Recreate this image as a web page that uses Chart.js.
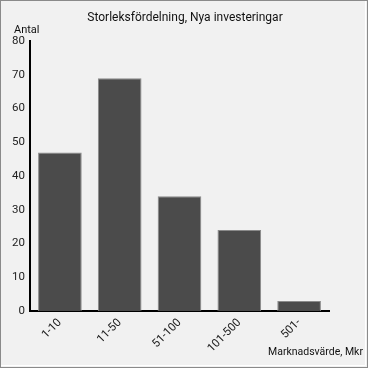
<!DOCTYPE html>
<html><head><meta charset="utf-8">
<script src="https://cdn.jsdelivr.net/npm/chart.js@4/dist/chart.umd.min.js"></script>
<style>html,body{margin:0;padding:0;background:#f1f1f1}#wrap{width:368px;height:368px;position:relative}</style>
</head><body><div id="wrap"><canvas id="c" width="368" height="368"></canvas></div>
<script>
const categories = ["1-10", "11-50", "51-100", "101-500", "501-"];
const antal = [47, 69, 34, 24, 3];
const yTicks = [0, 10, 20, 30, 40, 50, 60, 70, 80];
const titleText = "Storleksfördelning, Nya investeringar";
const yLabel = "Antal";
const xLabel = "Marknadsvärde, Mkr";
const FONT = "Roboto, 'Noto Sans', sans-serif";

const frame = {
  id: 'frame',
  beforeDraw(chart) {
    const ctx = chart.ctx;
    ctx.save();
    ctx.fillStyle = '#f1f1f1';
    ctx.fillRect(0, 0, 368, 368);
    ctx.strokeStyle = '#8a8a8a';
    ctx.lineWidth = 1;
    ctx.strokeRect(0.5, 0.5, 367, 367);
    ctx.strokeStyle = '#ffffff';
    ctx.beginPath();
    ctx.moveTo(365.5, 1); ctx.lineTo(365.5, 365.5); ctx.lineTo(1, 365.5);
    ctx.stroke();
    ctx.restore();
  },
  afterDraw(chart) {
    const ctx = chart.ctx;
    ctx.save();
    ctx.fillStyle = '#111';
    ctx.textBaseline = 'middle';
    ctx.font = '12px ' + FONT;
    ctx.textAlign = 'center';
    ctx.fillText(titleText, 185, 17.5);
    ctx.font = '11px ' + FONT;
    ctx.textAlign = 'left';
    ctx.fillText(yLabel, 14, 30);
    ctx.font = '10.5px ' + FONT;
    ctx.textAlign = 'right';
    ctx.fillText(xLabel, 363, 352);
    ctx.restore();
  }
};

new Chart(document.getElementById('c'), {
  type: 'bar',
  data: {
    labels: categories,
    datasets: [{
      data: antal,
      backgroundColor: '#4b4b4b',
      borderColor: '#8a8a8a',
      borderWidth: 1,
      barPercentage: 0.73,
      categoryPercentage: 1.0
    }]
  },
  options: {
    responsive: false,
    animation: false,
    devicePixelRatio: 1,
    layout: { padding: { top: 41, left: 0, right: 39, bottom: 0 } },
    plugins: { legend: { display: false }, title: { display: false }, tooltip: { enabled: false } },
    scales: {
      x: {
        grid: { display: false, drawTicks: false },
        border: { display: true, color: '#000', width: 2 },
        ticks: { color: '#222', font: { size: 11.5, family: FONT }, maxRotation: 45, minRotation: 45, padding: 5 },
        afterFit(s) { s.height = 57; }
      },
      y: {
        min: 0, max: 80,
        afterBuildTicks(s) { s.ticks = yTicks.map(v => ({ value: v })); },
        grid: { display: false, drawTicks: false },
        border: { display: true, color: '#000', width: 2 },
        ticks: { color: '#222', font: { size: 11.5, family: FONT }, padding: 5 },
        afterFit(s) { s.width = 30; }
      }
    }
  },
  plugins: [frame]
});
</script></body></html>
